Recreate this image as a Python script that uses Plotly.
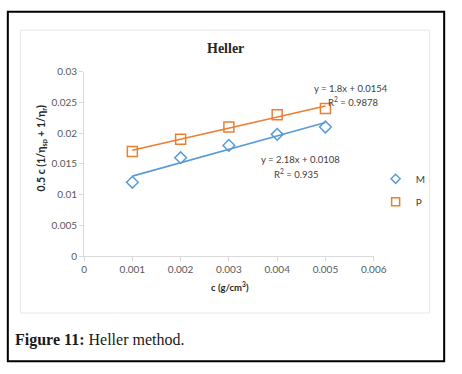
import numpy as np
import plotly.graph_objects as go

# ---- data ----
conc = [0.001, 0.002, 0.003, 0.004, 0.005]
m_vals = [0.012, 0.016, 0.018, 0.0198, 0.021]
p_vals = [0.017, 0.019, 0.021, 0.023, 0.024]
x_ticks = [0, 0.001, 0.002, 0.003, 0.004, 0.005, 0.006]
y_ticks = [0, 0.005, 0.01, 0.015, 0.02, 0.025, 0.03]

BLUE = "#5B9BD5"
ORANGE = "#ED7D31"
W, H = 462, 374

def px_x(p):
    return p / W

def px_y(p):
    return 1 - p / H

fig = go.Figure()

# trendlines from least-squares fit
for vals, col in [(m_vals, BLUE), (p_vals, ORANGE)]:
    k, b = np.polyfit(conc, vals, 1)
    xs = [conc[0], conc[-1]]
    fig.add_trace(go.Scatter(x=xs, y=[k * x + b for x in xs], mode="lines",
                             line=dict(color=col, width=1.6), showlegend=False,
                             hoverinfo="skip"))

fig.add_trace(go.Scatter(x=conc, y=m_vals, mode="markers", name="M", showlegend=False,
                         marker=dict(symbol="diamond-open", size=9, color=BLUE,
                                     line=dict(width=1.5, color=BLUE))))
fig.add_trace(go.Scatter(x=conc, y=p_vals, mode="markers", name="P", showlegend=False,
                         marker=dict(symbol="square-open", size=10, color=ORANGE,
                                     line=dict(width=1.5, color=ORANGE))))
# legend entries (smaller symbols, as in the reference legend)
fig.add_trace(go.Scatter(x=[None], y=[None], mode="markers", name="M", legendgroup="M",
                         marker=dict(symbol="diamond-open", size=7, color=BLUE,
                                     line=dict(width=1.5, color=BLUE))))
fig.add_trace(go.Scatter(x=[None], y=[None], mode="markers", name="P", legendgroup="P",
                         marker=dict(symbol="square-open", size=8, color=ORANGE,
                                     line=dict(width=1.5, color=ORANGE))))

tick_font = dict(family="Lato, Open Sans, sans-serif", size=10, color="#595959")

fig.update_layout(
    width=W, height=H, autosize=False,
    margin=dict(l=0, r=0, t=0, b=0),
    paper_bgcolor="white", plot_bgcolor="white",
    xaxis=dict(domain=[px_x(84), px_x(384)], range=[0, 0.006],
               tickvals=x_ticks, ticktext=[("%g" % v) if v else "0" for v in x_ticks],
               showgrid=False, zeroline=False, showline=True, linecolor="#D9D9D9",
               linewidth=1, ticks="outside", ticklen=4, tickcolor="#D9D9D9",
               tickfont=tick_font, anchor="y"),
    yaxis=dict(domain=[px_y(258), px_y(67)], range=[0, 0.03],
               tickvals=y_ticks, ticktext=[("%g" % v) if v else "0" for v in y_ticks],
               showgrid=False, zeroline=False, showline=True, linecolor="#D9D9D9",
               linewidth=1, ticks="outside", ticklen=4, tickcolor="#D9D9D9",
               tickfont=tick_font, anchor="x"),
    legend=dict(x=px_x(386), y=px_y(163), xanchor="left", yanchor="top",
                font=dict(family="Lato, Open Sans, sans-serif", size=10, color="#404040"),
                itemwidth=30, tracegroupgap=4, bgcolor="rgba(0,0,0,0)"),
    showlegend=True,
)

ann_font = dict(family="Lato, Open Sans, sans-serif", size=9.5, color="#404040")
annotations = [
    dict(text="<b>Heller</b>", x=px_x(230), y=px_y(43),
         font=dict(family="Liberation Serif, Times New Roman, serif", size=14, color="#262626")),
    dict(text="y = 1.8x + 0.0154", x=px_x(361), y=px_y(84), font=ann_font),
    dict(text="R<sup>2</sup> = 0.9878", x=px_x(363), y=px_y(98), font=ann_font),
    dict(text="y = 2.18x + 0.0108", x=px_x(308), y=px_y(158), font=ann_font),
    dict(text="R<sup>2</sup> = 0.935", x=px_x(304), y=px_y(173), font=ann_font),
    dict(text="<b>c (g/cm<sup>3</sup>)</b>", x=px_x(235), y=px_y(290),
         font=dict(family="Lato, Open Sans, sans-serif", size=9.5, color="#262626")),
    dict(text="<b>0.5 c (1/η<sub>sp</sub> + 1/η<sub>r</sub>)</b>", x=px_x(40), y=px_y(146),
         textangle=-90,
         font=dict(family="Lato, Open Sans, sans-serif", size=10.5, color="#262626")),
    dict(text="<b>Figure 11:</b> Heller method.", x=px_x(10), y=px_y(345), xanchor="left",
         font=dict(family="Liberation Serif, Times New Roman, serif", size=16, color="#1a1a1a")),
]
for a in annotations:
    a.setdefault("xanchor", "center")
    fig.add_annotation(xref="paper", yref="paper", yanchor="middle", showarrow=False, **a)

# outer black frame and inner light chart frame
fig.add_shape(type="rect", xref="paper", yref="paper",
              x0=px_x(5), x1=px_x(457), y0=px_y(367), y1=px_y(5),
              line=dict(color="black", width=2), layer="below")
fig.add_shape(type="rect", xref="paper", yref="paper",
              x0=px_x(18), x1=px_x(442), y0=px_y(317), y1=px_y(24),
              line=dict(color="#E6E6E6", width=1), layer="below")

fig.write_html(
    "out.html",
    config={"displayModeBar": False, "staticPlot": True},
    post_script="document.body.style.margin='0';document.body.style.overflow='hidden';",
)
